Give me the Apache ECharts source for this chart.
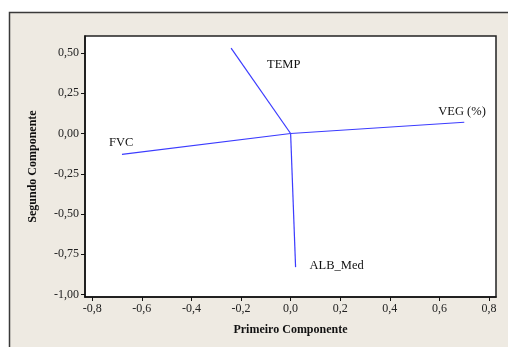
<!DOCTYPE html>
<html>
<head>
<meta charset="utf-8">
<script src="https://cdn.jsdelivr.net/npm/echarts@6/dist/echarts.min.js"></script>
<style>
  html, body { margin: 0; padding: 0; background: #fff; }
  #chart { width: 508px; height: 347px; }
</style>
</head>
<body>
<div id="chart"></div>
<script>
// loadings (primeiro, segundo componente)
const variables = ['TEMP', 'VEG (%)', 'FVC', 'ALB_Med'];
const comp1 = [-0.24, 0.70, -0.68, 0.02];
const comp2 = [0.53, 0.07, -0.13, -0.83];
const xTicks = [-0.8, -0.6, -0.4, -0.2, 0.0, 0.2, 0.4, 0.6, 0.8];
const yTicks = [-1.0, -0.75, -0.5, -0.25, 0.0, 0.25, 0.5];

// label nudges in pixels, relative to each vector tip
const labelShift = [[36, 17], [-26, -11], [-13, -12], [14, -1]];

const fmt = (d) => (v) => v.toFixed(d).replace('.', ',');
const font = 'Liberation Serif';

const chart = echarts.init(document.getElementById('chart'));

const series = variables.map((name, i) => ({
  type: 'line',
  name,
  data: [[0, 0], [comp1[i], comp2[i]]],
  symbol: 'none',
  silent: true,
  lineStyle: { color: '#3b3bff', width: 1.2 },
  endLabel: {
    show: true,
    formatter: name,
    fontFamily: font,
    fontSize: 12.5,
    color: '#111',
    align: 'left',
    verticalAlign: 'middle',
    distance: 0,
    offset: labelShift[i]
  }
}));

chart.setOption({
  animation: false,
  graphic: [
    {
      type: 'rect',
      z: -10,
      shape: { x: 9.5, y: 12.5, width: 520, height: 360 },
      style: { fill: '#eeeae2', stroke: '#3a3a3a', lineWidth: 1.5 }
    },
    {
      type: 'rect',
      z: -5,
      shape: { x: 85, y: 36, width: 411, height: 261 },
      style: { fill: '#ffffff', stroke: '#222', lineWidth: 1.5 }
    }
  ],
  grid: { left: 85, top: 36, width: 411, height: 261, show: false },
  xAxis: {
    type: 'value',
    min: -0.829,
    max: 0.828,
    name: 'Primeiro Componente',
    nameLocation: 'middle',
    nameGap: 27,
    nameTextStyle: { fontFamily: font, fontWeight: 'bold', fontSize: 12, color: '#111' },
    splitLine: { show: false },
    axisLine: { show: true, onZero: false, lineStyle: { color: '#111', width: 1.5 } },
    axisTick: { show: true, length: 4, customValues: xTicks, lineStyle: { color: '#111' } },
    axisLabel: { customValues: xTicks, formatter: fmt(1), fontFamily: font, fontSize: 12, color: '#222', margin: 6 }
  },
  yAxis: {
    type: 'value',
    min: -1.0155,
    max: 0.6056,
    name: 'Segundo Componente',
    nameLocation: 'middle',
    nameGap: 46,
    nameTextStyle: { fontFamily: font, fontWeight: 'bold', fontSize: 12, color: '#111' },
    splitLine: { show: false },
    axisLine: { show: true, onZero: false, lineStyle: { color: '#111', width: 1.5 } },
    axisTick: { show: true, length: 4, customValues: yTicks, lineStyle: { color: '#111' } },
    axisLabel: { customValues: yTicks, formatter: fmt(2), fontFamily: font, fontSize: 12, color: '#222', margin: 6 }
  },
  series
});
</script>
</body>
</html>
